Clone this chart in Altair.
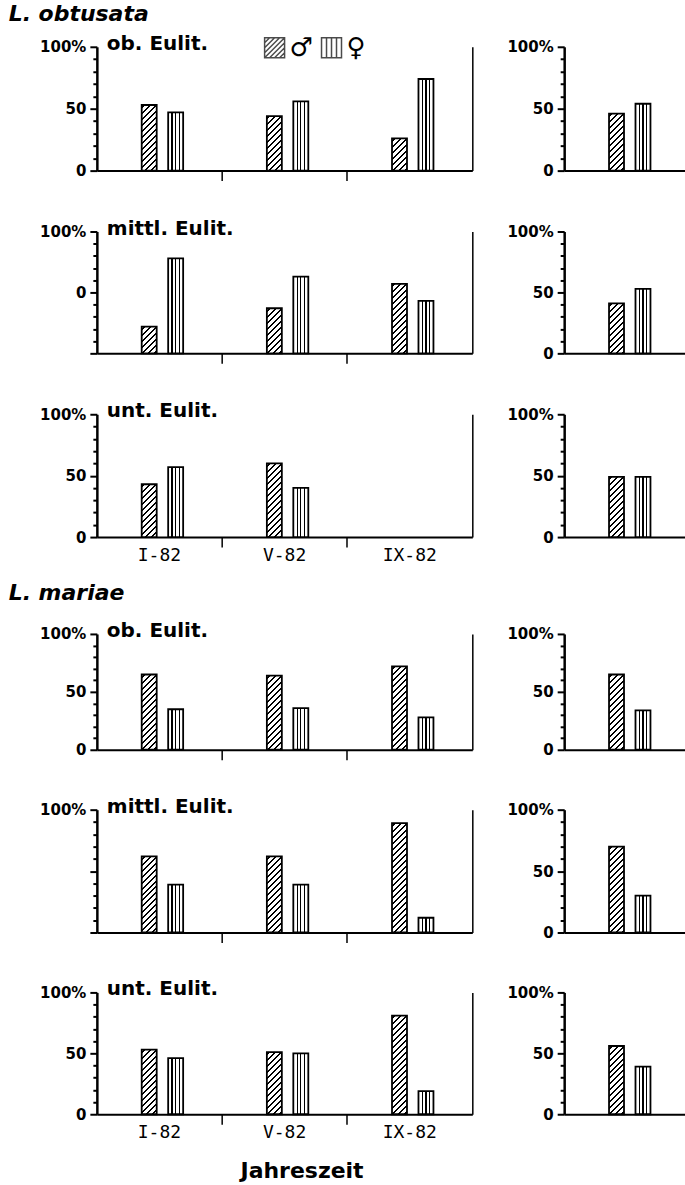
import altair as alt

# ---------------- data (% of individuals) ----------------
SEASONS = ["I-82", "V-82", "IX-82"]
TOTAL = ["gesamt"]
SEXES = ["♂", "♀"]
SPECIES = ["L. obtusata", "L. mariae"]
ZONES = ["ob. Eulit.", "mittl. Eulit.", "unt. Eulit."]

# left panels: per season, male / female
OBT_OB_M = [53, 44, 26]
OBT_OB_F = [47, 56, 74]
OBT_MI_M = [22, 37, 57]
OBT_MI_F = [78, 63, 43]
OBT_UN_M = [43, 60, None]
OBT_UN_F = [57, 40, None]
MAR_OB_M = [65, 64, 72]
MAR_OB_F = [35, 36, 28]
MAR_MI_M = [62, 62, 89]
MAR_MI_F = [39, 39, 12]
MAR_UN_M = [53, 51, 81]
MAR_UN_F = [46, 50, 19]

# right panels: whole year, per zone (ob., mittl., unt.)
OBT_TOT_M = [46, 41, 49]
OBT_TOT_F = [54, 53, 49]
MAR_TOT_M = [65, 70, 56]
MAR_TOT_F = [34, 30, 39]

# y tick labels (the original figure prints them like this)
Y_TICKS = list(range(0, 101, 10))
Y_LABELS = {100: "100%", 50: "50", 0: "0"}
Y_LABELS_OBT_MI = {100: "100%", 50: "0"}
Y_LABELS_MAR_MI = {100: "100%"}

# ---------------- layout / style ----------------
W_LEFT = 376
W_RIGHT = 121
COL_GAP = 92
ROW_H_OBT = [124, 122, 123]
ROW_H_MAR = [116, 123, 122]
ROW_GAP_OBT = 61
ROW_GAP_MAR = 60
BAR_W = 15
BAR_STEP = 26.5
PAIR_SHIFT = 3
LABEL_FONT = "DejaVu Sans"
MONO_FONT = "DejaVu Sans Mono"


def male_fill(h, w=BAR_W, period=6.0, lw=2.0):
    """diagonal hatch as a hard-stop linear gradient (object bounding box)"""
    h = max(h, 1.0)
    span = w + h
    k = span / (w * w + h * h)
    stops = [{"offset": 0, "color": "white"}]
    c = period / 2
    while c - lw / 2 < span:
        a = round(max(0.0, (c - lw / 2) / span), 4)
        b = round(min(1.0, (c + lw / 2) / span), 4)
        stops += [
            {"offset": a, "color": "white"},
            {"offset": a, "color": "black"},
            {"offset": b, "color": "black"},
            {"offset": b, "color": "white"},
        ]
        c += period
    stops.append({"offset": 1, "color": "white"})
    return {"gradient": "linear", "x1": 0, "y1": 0,
            "x2": round(k * w, 5), "y2": round(k * h, 5), "stops": stops}


def female_fill():
    stops = [{"offset": 0, "color": "white"}]
    for a, b in [(0.22, 0.31), (0.455, 0.545), (0.69, 0.78)]:
        stops += [
            {"offset": a, "color": "white"},
            {"offset": a, "color": "black"},
            {"offset": b, "color": "black"},
            {"offset": b, "color": "white"},
        ]
    stops.append({"offset": 1, "color": "white"})
    return {"gradient": "linear", "x1": 0, "y1": 0, "x2": 1, "y2": 0, "stops": stops}


def sym_path_male():
    p = "M-1,-1H1V1H-1Z"
    for c in [-1.5, -1.0, -0.5, 0.0, 0.5, 1.0, 1.5]:
        if c <= 0:
            p += f"M-1,{c + 1}L{c + 1},-1"
        else:
            p += f"M{c - 1},1L1,{c - 1}"
    return p


def sym_path_female():
    p = "M-1,-1H1V1H-1Z"
    for x in [-0.5, 0.0, 0.5]:
        p += f"M{x},-1V1"
    return p


def label_expr(mapping):
    expr = "''"
    for v, t in mapping.items():
        expr = f"datum.value == {v} ? '{t}' : " + expr
    return expr


def offset_scale(band):
    pi = 1 - BAR_W / BAR_STEP
    span = BAR_STEP * (2 - pi)
    a = band / 2 - span / 2 + PAIR_SHIFT
    return alt.Scale(domain=SEXES, paddingInner=pi, paddingOuter=0,
                     range=[a, a + span])


def y_enc(labels):
    return alt.Y(
        "value:Q",
        scale=alt.Scale(domain=[0, 100], nice=False),
        axis=alt.Axis(
            values=Y_TICKS, labelExpr=label_expr(labels), grid=False, title=None,
            tickSize={"condition": {"test": "datum.value % 50 == 0", "value": 7}, "value": 4},
            tickWidth=2, tickColor="black", domainWidth=2.5, domainColor="black",
            labelFont=LABEL_FONT, labelFontWeight="bold", labelFontSize=15,
            labelColor="black", labelPadding=4,
        ),
    )


def panel(kind, m_vals, f_vals, H, labels, zone=None, xlabels=False,
          xtitle=None, legend=False):
    periods = SEASONS if kind == "season" else TOTAL
    W = W_LEFT if kind == "season" else W_RIGHT
    rows = []
    for p, m, f in zip(periods, m_vals, f_vals):
        if m is not None:
            rows.append({"period": p, "sex": SEXES[0], "value": m,
                         "grad": male_fill(m / 100 * H)})
        if f is not None:
            rows.append({"period": p, "sex": SEXES[1], "value": f,
                         "grad": female_fill()})
    data = alt.Data(values=rows)
    band = W / len(periods)

    if kind == "season":
        xaxis_kw = dict(
            bandPosition=0, ticks=True, tickSize=10,
            tickWidth=1.5, tickColor="black",
            tickOpacity={"condition": {"test": f"datum.value == '{SEASONS[0]}'", "value": 0},
                         "value": 1},
            domainWidth=2, domainColor="black", labels=xlabels,
            labelFont=MONO_FONT, labelFontSize=18, labelColor="black",
            labelPadding=-1, labelAngle=0,
        )
        if xtitle:
            xaxis_kw.update(title=xtitle, titleFont=LABEL_FONT, titleFontSize=22,
                            titleFontWeight="bold", titleColor="black",
                            titlePadding=19, titleX=205, titleAlign="center")
        else:
            xaxis_kw.update(title=None)
    else:
        xaxis_kw = dict(ticks=False, labels=False, domainWidth=2,
                        domainColor="black", title=None)

    x = alt.X("period:N", sort=periods,
              scale=alt.Scale(domain=periods, paddingInner=0, paddingOuter=0),
              axis=alt.Axis(**xaxis_kw))

    bars = alt.Chart(data).mark_bar(stroke="black", strokeWidth=1.8).encode(
        x=x,
        xOffset=alt.XOffset("sex:N", sort=SEXES, scale=offset_scale(band)),
        y=y_enc(labels),
        fill=alt.Fill("grad:N", scale=None, legend=None),
    )

    props = dict(width=W, height=H)
    if zone:
        props["title"] = alt.TitleParams(
            zone, anchor="start", frame="group", orient="top",
            font=LABEL_FONT, fontSize=20, fontWeight="bold", color="black",
            baseline="middle", offset=0, dx=10, dy=24,
        )

    if kind != "season":
        return bars.properties(**props)

    # right-hand frame line of the seasonal panel (+ legend in the first one)
    enc = dict(
        y=alt.Y("value:Q", scale=alt.Scale(domain=[0, 100], nice=False),
                axis=alt.Axis(orient="right", labels=False, ticks=False, grid=False,
                              title=None, domainWidth=1.5, domainColor="black")),
    )
    if legend:
        enc["shape"] = alt.Shape(
            "sex:N",
            scale=alt.Scale(domain=SEXES, range=[sym_path_male(), sym_path_female()]),
            legend=alt.Legend(
                orient="none", legendX=165, legendY=-12, direction="horizontal",
                title=None, symbolSize=400, symbolStrokeColor="black",
                symbolStrokeWidth=1.5, symbolFillColor="white",
                labelFont=LABEL_FONT, labelFontSize=26, labelColor="black",
                labelOffset=2, columnPadding=5,
            ),
        )
    border = alt.Chart(data).transform_filter("false").mark_point(
        color="black", filled=False
    ).encode(**enc)

    return alt.layer(bars, border).resolve_axis(y="independent").properties(**props)


def species_title(text, dx, dy):
    return alt.TitleParams(
        text, anchor="start", font=LABEL_FONT, fontSize=22, fontStyle="italic",
        fontWeight="bold", color="black", dx=dx, dy=dy,
    )


obt_cells = [
    panel("season", OBT_OB_M, OBT_OB_F, ROW_H_OBT[0], Y_LABELS, zone=ZONES[0], legend=True),
    panel("total", [OBT_TOT_M[0]], [OBT_TOT_F[0]], ROW_H_OBT[0], Y_LABELS),
    panel("season", OBT_MI_M, OBT_MI_F, ROW_H_OBT[1], Y_LABELS_OBT_MI, zone=ZONES[1]),
    panel("total", [OBT_TOT_M[1]], [OBT_TOT_F[1]], ROW_H_OBT[1], Y_LABELS),
    panel("season", OBT_UN_M, OBT_UN_F, ROW_H_OBT[2], Y_LABELS, zone=ZONES[2], xlabels=True),
    panel("total", [OBT_TOT_M[2]], [OBT_TOT_F[2]], ROW_H_OBT[2], Y_LABELS),
]
mar_cells = [
    panel("season", MAR_OB_M, MAR_OB_F, ROW_H_MAR[0], Y_LABELS, zone=ZONES[0]),
    panel("total", [MAR_TOT_M[0]], [MAR_TOT_F[0]], ROW_H_MAR[0], Y_LABELS),
    panel("season", MAR_MI_M, MAR_MI_F, ROW_H_MAR[1], Y_LABELS_MAR_MI, zone=ZONES[1]),
    panel("total", [MAR_TOT_M[1]], [MAR_TOT_F[1]], ROW_H_MAR[1], Y_LABELS),
    panel("season", MAR_UN_M, MAR_UN_F, ROW_H_MAR[2], Y_LABELS, zone=ZONES[2],
          xlabels=True, xtitle="Jahreszeit"),
    panel("total", [MAR_TOT_M[2]], [MAR_TOT_F[2]], ROW_H_MAR[2], Y_LABELS),
]

sec_obt = alt.concat(
    *obt_cells, columns=2, bounds="flush",
    spacing={"row": ROW_GAP_OBT, "column": COL_GAP},
    title=species_title(SPECIES[0], -31, -4),
)
sec_mar = alt.concat(
    *mar_cells, columns=2, bounds="flush",
    spacing={"row": ROW_GAP_MAR, "column": COL_GAP},
    title=species_title(SPECIES[1], -31, -12),
)

chart = alt.vconcat(sec_obt, sec_mar, spacing=18).properties(
    padding={"left": 8, "top": 2, "right": 0, "bottom": 0},
    background="white",
).configure_view(stroke=None)

chart.save("out.html", embed_options={"renderer": "svg", "actions": False})
